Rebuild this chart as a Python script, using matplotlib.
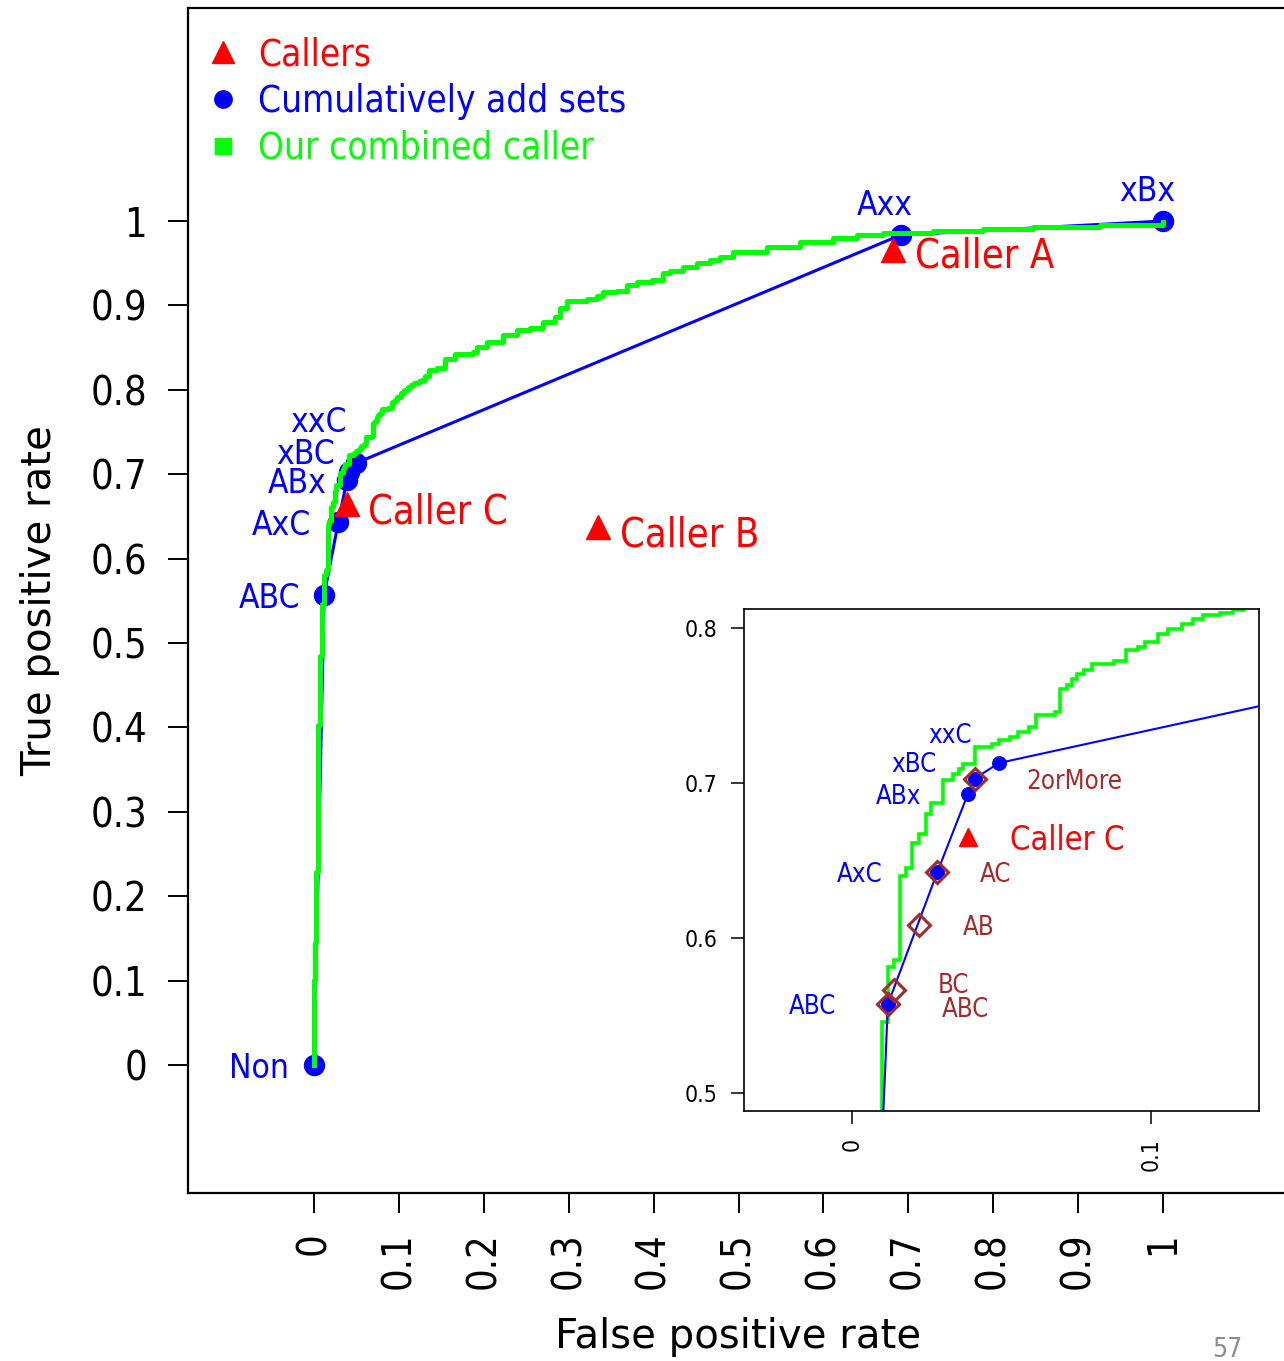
import os
import matplotlib
matplotlib.use('Agg')
import matplotlib.pyplot as plt
from matplotlib import font_manager as fm
from matplotlib.lines import Line2D

# ---------------- data ----------------
set_labels = ["Non", "ABC", "AxC", "ABx", "xBC", "xxC", "Axx", "xBx"]
set_fpr = [0.0, 0.0120, 0.0286, 0.0388, 0.0410, 0.0491, 0.6910, 1.0]
set_tpr = [0.0, 0.5572, 0.6428, 0.6931, 0.7028, 0.7129, 0.9834, 1.0]

caller_labels = ["Caller A", "Caller B", "Caller C"]
caller_fpr = [0.6816, 0.3345, 0.0387]
caller_tpr = [0.9660, 0.6374, 0.6650]

vote_labels = ["2orMore", "AC", "AB", "BC", "ABC"]
vote_fpr = [0.0410, 0.0286, 0.0223, 0.0141, 0.0120]
vote_tpr = [0.7028, 0.6428, 0.6082, 0.5665, 0.5572]

combined_fpr = [0.0, 0.0, 0.0012, 0.0027, 0.0051, 0.0075, 0.0100, 0.0120, 0.0140,
                0.0161, 0.0181, 0.0201, 0.0224, 0.0247, 0.0265, 0.0305, 0.0337,
                0.0358, 0.0370, 0.0410, 0.0468, 0.0492, 0.0527, 0.0554, 0.0591,
                0.0614, 0.0678, 0.0696, 0.0719, 0.0737, 0.0754, 0.0777, 0.0801,
                0.0876, 0.0917, 0.0958, 0.0981, 0.1022, 0.1057, 0.1104, 0.1139,
                0.1174, 0.1232, 0.1273, 0.131, 0.135, 0.1445, 0.154, 0.166,
                0.1877, 0.1916, 0.2034, 0.223, 0.2388, 0.2544, 0.270, 0.2839,
                0.2898, 0.2976, 0.3212, 0.333, 0.3408, 0.3565, 0.3683, 0.380,
                0.3977, 0.4114, 0.4193, 0.435, 0.4508, 0.4664, 0.478, 0.4939,
                0.533, 0.5724, 0.6117, 0.639, 0.6706, 0.7295, 0.7884, 0.8472,
                0.9258, 1.0]
combined_tpr = [0.0, 0.101, 0.1445, 0.229, 0.403, 0.484, 0.546, 0.581, 0.586,
                0.640, 0.645, 0.661, 0.667, 0.680, 0.687, 0.702, 0.706,
                0.709, 0.712, 0.723, 0.725, 0.7275, 0.7297, 0.733, 0.736,
                0.7437, 0.7458, 0.7609, 0.763, 0.7673, 0.7705, 0.773, 0.777,
                0.779, 0.7856, 0.7877, 0.791, 0.7963, 0.7996, 0.8028, 0.806,
                0.8082, 0.810, 0.8114, 0.816, 0.823, 0.8255, 0.837, 0.842,
                0.8453, 0.8503, 0.857, 0.865, 0.8709, 0.8736, 0.8807, 0.8866,
                0.8965, 0.9056, 0.9072, 0.9115, 0.9155, 0.9175, 0.9242, 0.9273,
                0.930, 0.938, 0.9412, 0.946, 0.950, 0.9538, 0.9577, 0.9636,
                0.9696, 0.9755, 0.9795, 0.9834, 0.9862, 0.9886, 0.990, 0.9925,
                0.9953, 0.9992]

main_ticks = [0.0, 0.1, 0.2, 0.3, 0.4, 0.5, 0.6, 0.7, 0.8, 0.9, 1.0]
main_ticklabels = ["0", "0.1", "0.2", "0.3", "0.4", "0.5", "0.6", "0.7", "0.8", "0.9", "1"]
inset_xticks = [0.0, 0.1]
inset_xticklabels = ["0", "0.1"]
inset_yticks = [0.5, 0.6, 0.7, 0.8]
inset_yticklabels = ["0.5", "0.6", "0.7", "0.8"]

legend_labels = ["Callers", "Cumulatively add sets", "Our combined caller"]

# ---------------- styling ----------------
BLUE = '#0000FF'
RED = '#FF0000'
GREEN = '#00FF00'
BROWN = '#A52A2A'
PX = 0.72  # points per pixel at dpi 100

cond_path = None
for f in fm.fontManager.ttflist:
    if os.path.basename(f.fname).lower() == 'dejavusanscondensed.ttf':
        cond_path = f.fname
        break


def fp(size):
    if cond_path:
        return fm.FontProperties(fname=cond_path, size=size)
    return fm.FontProperties(family='DejaVu Sans', size=size * 0.9)


fig = plt.figure(figsize=(12.84, 13.61), dpi=100)
fig.patch.set_facecolor('white')

# ---------------- main axes ----------------
ax = fig.add_axes([188 / 1284, (1361 - 1193) / 1361, (1284 - 188) / 1284, (1193 - 8) / 1361])
ax.set_xlim(-0.1484, 1.1425)
ax.set_ylim(-0.1517, 1.2524)
for s in ['left', 'bottom', 'top']:
    ax.spines[s].set_linewidth(1.6)
ax.spines['right'].set_visible(False)

ax.plot(set_fpr, set_tpr, '-', color=BLUE, lw=2.2, zorder=2)
ax.plot(set_fpr, set_tpr, 'o', color=BLUE, ms=14.4, zorder=3)
ax.plot(combined_fpr, combined_tpr, '-', color=GREEN, lw=3.6, drawstyle='steps-post',
        zorder=4, solid_joinstyle='round')
ax.plot(caller_fpr, caller_tpr, '^', color=RED, ms=17, zorder=5, linestyle='none')

main_set_offsets = {"Non": (-25, 0, 'right'), "ABC": (-24, 0, 'right'),
                    "AxC": (-27, 0, 'right'), "ABx": (-20, 0, 'right'),
                    "xBC": (-14, 21, 'right'), "xxC": (-9, 44, 'right'),
                    "Axx": (-16, 33, 'center'), "xBx": (-16, 33, 'center')}
for lab, x, y in zip(set_labels, set_fpr, set_tpr):
    dx, dy, ha = main_set_offsets[lab]
    ax.annotate(lab, xy=(x, y), xytext=(dx * PX, dy * PX), textcoords='offset points',
                ha=ha, va='center_baseline', color=BLUE, fontproperties=fp(24), zorder=6)

main_caller_offsets = {"Caller A": (22, -2), "Caller B": (22, -4), "Caller C": (21, -4)}
for lab, x, y in zip(caller_labels, caller_fpr, caller_tpr):
    dx, dy = main_caller_offsets[lab]
    ax.annotate(lab, xy=(x, y), xytext=(dx * PX, dy * PX), textcoords='offset points',
                ha='left', va='center_baseline', color=RED, fontproperties=fp(28.5), zorder=6)

ax.set_xticks(main_ticks, main_ticklabels, rotation=90, fontproperties=fp(28.5))
ax.set_yticks(main_ticks, main_ticklabels, fontproperties=fp(28.5))
ax.tick_params(axis='both', length=14.4, width=1.4, direction='out')
ax.tick_params(axis='x', pad=14.0)
ax.tick_params(axis='y', pad=15.0)

ax.set_xlabel("False positive rate", fontsize=29, family='DejaVu Sans')
ax.xaxis.set_label_coords((738.5 - 188) / 1096, (1193 - 1317) / 1185)
ax.set_ylabel("True positive rate", fontsize=29, family='DejaVu Sans')
ax.yaxis.set_label_coords((60 - 188) / 1096, 0.5)

handles = [Line2D([], [], marker='^', color=RED, ms=15.5, linestyle='none'),
           Line2D([], [], marker='o', color=BLUE, ms=12.5, linestyle='none'),
           Line2D([], [], marker='s', color=GREEN, ms=12, linestyle='none')]
leg = ax.legend(handles, legend_labels, loc='upper left',
                bbox_to_anchor=(204.6 / 1284, 1 - 36.0 / 1361), bbox_transform=fig.transFigure,
                frameon=False, prop=fp(26.5), handlelength=1.0, handletextpad=0.45,
                labelspacing=0.27, borderpad=0, borderaxespad=0,
                labelcolor=[RED, BLUE, GREEN])

# ---------------- inset axes ----------------
ins = fig.add_axes([744 / 1284, (1361 - 1111) / 1361, 515 / 1284, 502 / 1361])
ins.set_facecolor('white')
ins.set_xlim(-0.0361, 0.1361)
ins.set_ylim(0.4884, 0.8123)
for s in ins.spines.values():
    s.set_linewidth(1.2)

ins.plot(combined_fpr, combined_tpr, '-', color=GREEN, lw=2.6, drawstyle='steps-post',
         zorder=2, solid_joinstyle='miter')
ins.plot(set_fpr, set_tpr, '-', color=BLUE, lw=1.5, zorder=3)
ins.plot(set_fpr, set_tpr, 'o', color=BLUE, ms=9.7, zorder=4)
ins.plot(vote_fpr, vote_tpr, 'D', mfc='none', mec=BROWN, mew=2.2, ms=10.7, zorder=5,
         linestyle='none')
ins.plot(caller_fpr, caller_tpr, '^', color=RED, ms=13.5, zorder=6, linestyle='none')

inset_set_offsets = {"xxC": (-27, 30), "xBC": (-37.6, 16.5), "ABx": (-47, 0),
                     "AxC": (-54.6, 0), "ABC": (-52, 0)}
for lab, x, y in zip(set_labels, set_fpr, set_tpr):
    if lab not in inset_set_offsets:
        continue
    dx, dy = inset_set_offsets[lab]
    ins.annotate(lab, xy=(x, y), xytext=(dx * PX, dy * PX), textcoords='offset points',
                 ha='right', va='center_baseline', color=BLUE, fontproperties=fp(18.5), zorder=7)

inset_vote_offsets = {"2orMore": (52, 0), "AC": (42, 0), "AB": (44, 0),
                      "BC": (44, 7), "ABC": (54, -2.5)}
for lab, x, y in zip(vote_labels, vote_fpr, vote_tpr):
    dx, dy = inset_vote_offsets[lab]
    ins.annotate(lab, xy=(x, y), xytext=(dx * PX, dy * PX), textcoords='offset points',
                 ha='left', va='center_baseline', color=BROWN, fontproperties=fp(18.5), zorder=7)

for lab, x, y in zip(caller_labels, caller_fpr, caller_tpr):
    if lab != "Caller C":
        continue
    ins.annotate(lab, xy=(x, y), xytext=(42 * PX, 0), textcoords='offset points',
                 ha='left', va='center_baseline', color=RED, fontproperties=fp(23.5), zorder=7)

ins.set_xticks(inset_xticks, inset_xticklabels, rotation=90, fontproperties=fp(16.5))
ins.set_yticks(inset_yticks, inset_yticklabels, fontproperties=fp(16.5))
ins.tick_params(axis='both', length=9.5, width=1.1, direction='out')
ins.tick_params(axis='x', pad=10)
ins.tick_params(axis='y', pad=9.4)

fig.text(1227.5 / 1284, 1 - 1347 / 1361, "57", ha='center', va='center_baseline',
         color='#8c8c8c', fontproperties=fp(19))

fig.savefig('out.png', dpi=100, facecolor='white')
